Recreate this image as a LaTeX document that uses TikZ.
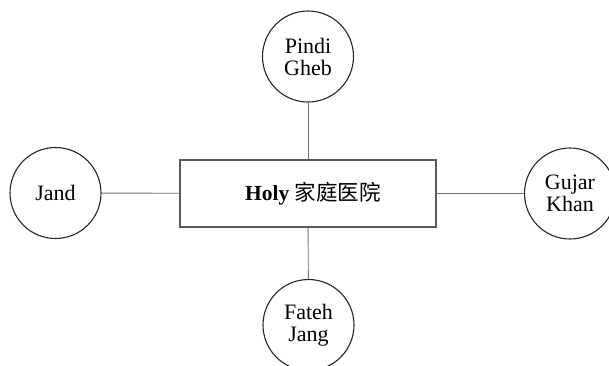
\documentclass[tikz,border=0pt]{standalone}
\usepackage{fontspec}
\setmainfont{Liberation Serif}
\newfontfamily\cjk{Noto Sans CJK SC}
\begin{document}
\begin{tikzpicture}[x=1pt,y=-1pt,
  town/.style={draw=black!85,line width=1.1pt,circle,minimum size=91pt,inner sep=0pt,align=center,
    font=\fontsize{22}{22}\selectfont},
  hub/.style={draw=black!65,line width=1.5pt,rectangle,minimum width=256pt,minimum height=67pt,inner sep=0pt},
  hubtext/.style={font=\fontsize{21.5}{22}\selectfont},
  link/.style={draw=black!55,line width=0.9pt}]
\useasboundingbox (0,0) rectangle (609,365);
\node[hub] (h) at (308,193.5) {};
\node[hubtext] (hl) at (313,193.5) {\textbf{Holy} {\cjk 家庭医院}};
\node[town] (n) at (308,56.5) {Pindi\\Gheb};
\node[town] (w) at (55.5,193) {Jand};
\node[town] (e) at (570,193.5) {Gujar\\Khan};
\node[town] (s) at (308.5,325) {Fateh\\Jang};
\draw[link] (n) -- (h);
\draw[link] (w) -- (h);
\draw[link] (e) -- (h);
\draw[link] (s) -- (h);
\end{tikzpicture}
\end{document}
